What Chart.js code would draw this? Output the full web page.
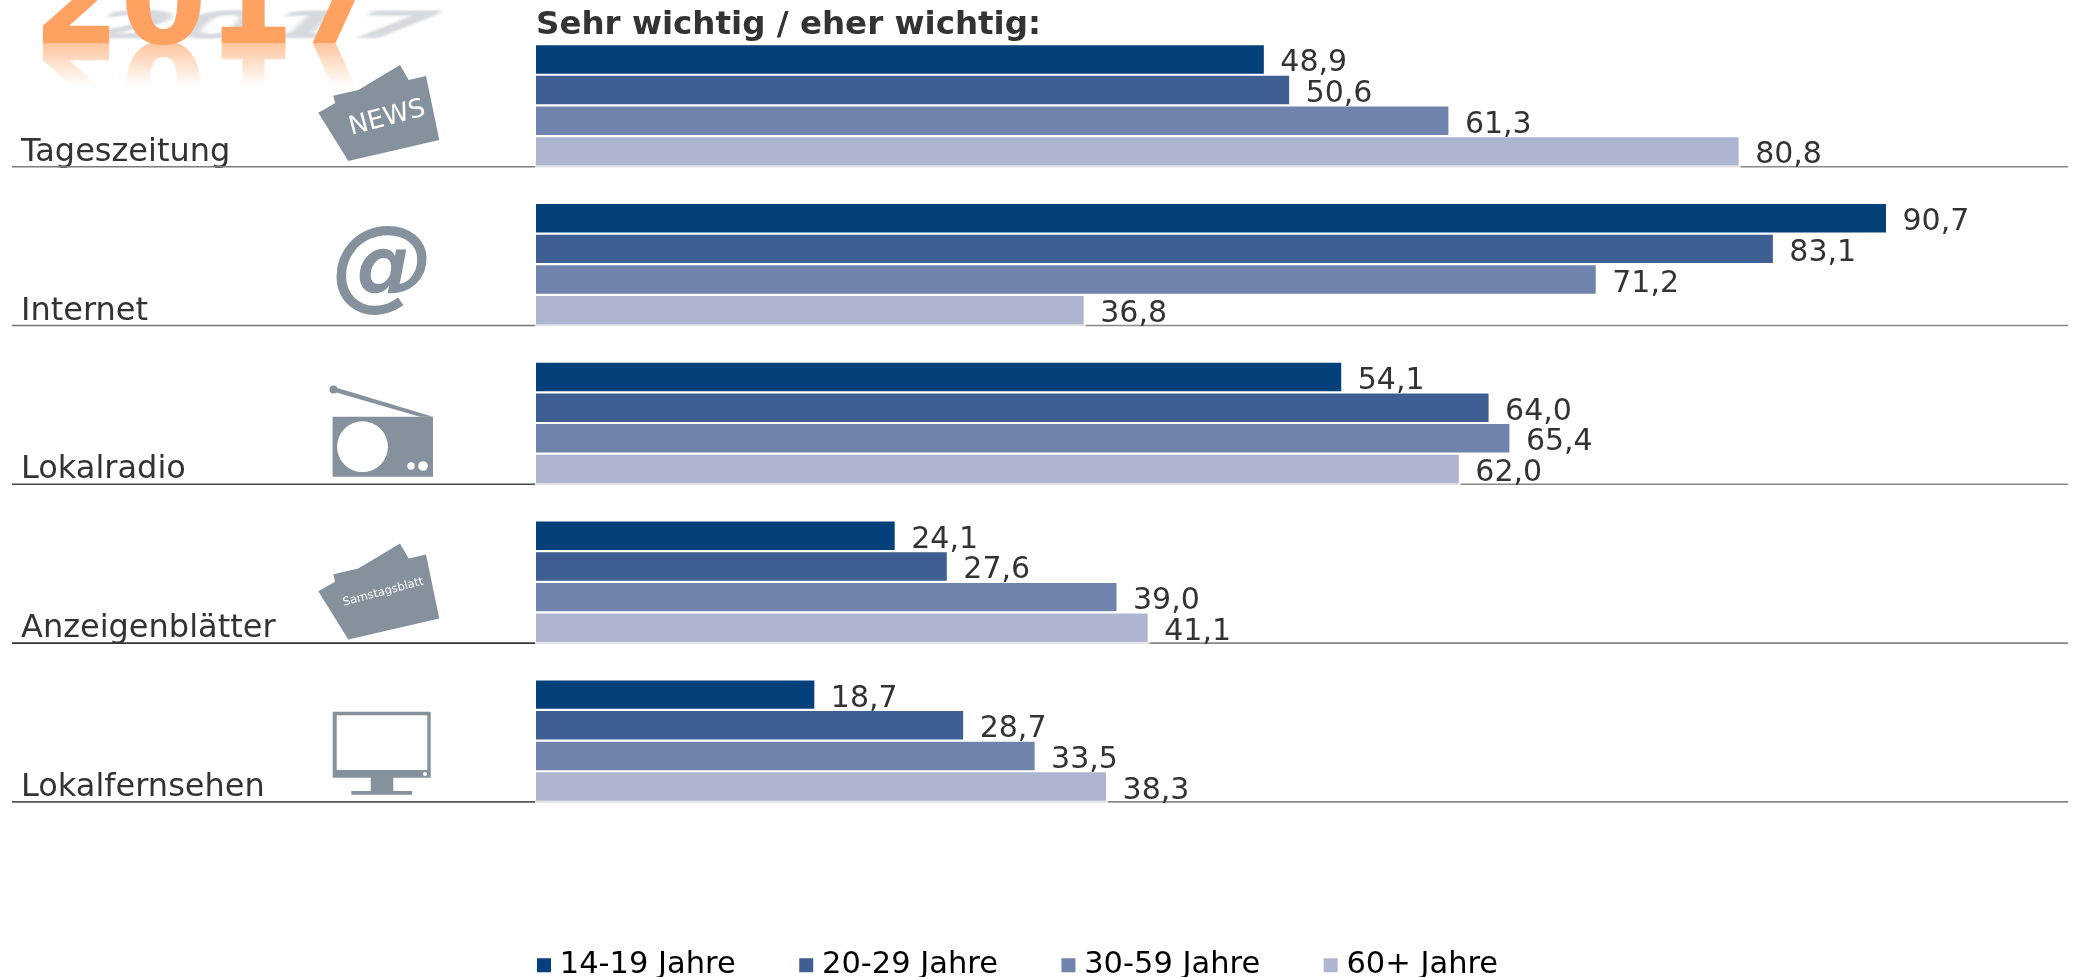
<!DOCTYPE html>
<html lang="de"><head><meta charset="utf-8">
<style>
html,body{margin:0;padding:0;background:#fff;overflow:hidden}
#wrap{position:relative;width:2075px;height:977px}
canvas{position:absolute;left:0;top:0}
svg{position:absolute;left:0;top:0;pointer-events:none}
</style>
<script src="https://cdn.jsdelivr.net/npm/chart.js@4"></script>
</head><body>
<div id="wrap">
<canvas id="c" width="2075" height="977"></canvas>
<svg width="2075" height="977" viewBox="0 0 2075 977">
 <defs>
  <linearGradient id="fade" x1="0" y1="43" x2="0" y2="86" gradientUnits="userSpaceOnUse">
   <stop offset="0" stop-color="#fff" stop-opacity=".62"/><stop offset="1" stop-color="#fff" stop-opacity="0"/>
  </linearGradient>
  <mask id="m" maskUnits="userSpaceOnUse" x="0" y="0" width="500" height="120"><rect x="0" y="43" width="500" height="60" fill="url(#fade)"/></mask>
  <filter id="b" x="-10%" y="-50%" width="120%" height="200%"><feGaussianBlur stdDeviation="3.2"/></filter>
  <filter id="b2" x="-5%" y="-5%" width="110%" height="110%"><feGaussianBlur stdDeviation="0.6"/></filter>
 </defs>
 <g font-family="DejaVu Sans" font-weight="700" font-size="125">
  <text transform="translate(76,38) matrix(1,0,-0.3,0.3,0,0)" fill="#b4bcc4" opacity=".55" filter="url(#b)">2017</text>
  <g mask="url(#m)"><text transform="translate(33,43) scale(1,-1)" fill="#ffa261" filter="url(#b2)">2017</text></g>
  <text x="33" y="43" fill="#ffa261">2017</text>
 </g>
 <g fill="#85919d">
  <path d="M318.3 112.7L348.3 161L439.3 140L426 76L408.7 80L400 65L358.3 90L333.3 95.7L335 103.3Z"/>
  <path transform="translate(0,478.5)" d="M318.3 112.7L348.3 161L439.3 140L426 76L408.7 80L400 65L358.3 90L333.3 95.7L335 103.3Z"/>
  <text x="383" y="297.5" font-family="DejaVu Sans" font-weight="700" font-style="oblique" font-size="102" text-anchor="middle">@</text>
  <path d="M332.6 416.7H433V476.7H332.6Z"/>
  <path d="M334 387L433 416.7H420L333 391.5Z"/><circle cx="333.5" cy="389.5" r="4"/>
  <path d="M332.7 711.7H430.7V777.7H393.3V791H412V794.7H351.3V791H370.7V777.7H332.7Z"/>
 </g>
 <g fill="#fff">
  <circle cx="362.5" cy="446.7" r="25.4"/><circle cx="411" cy="466" r="3.7"/><circle cx="423" cy="466" r="4.8"/>
  <rect x="336.7" y="715.3" width="90.6" height="54.7"/><circle cx="425" cy="774" r="2"/>
  <text font-family="DejaVu Sans" font-size="26" text-anchor="middle" transform="translate(389,125) rotate(-15)">NEWS</text>
  <text font-family="DejaVu Sans" font-size="11.5" text-anchor="middle" transform="translate(384,595) rotate(-15)">Samstagsblatt</text>
 </g>
</svg>
</div>
<script>
const categories = ['Tageszeitung','Internet','Lokalradio','Anzeigenblätter','Lokalfernsehen'];
const seriesNames = ['14-19 Jahre','20-29 Jahre','30-59 Jahre','60+ Jahre'];
const age14to19 = [48.9,90.7,54.1,24.1,18.7];
const age20to29 = [50.6,83.1,64.0,27.6,28.7];
const age30to59 = [61.3,71.2,65.4,39.0,33.5];
const age60plus = [80.8,36.8,62.0,41.1,38.3];
const colors = ['#04407a','#3f5e91','#7083ad','#aeb5d1'];
const titleText = 'Sehr wichtig / eher wichtig:';
const ruleLeftColors = ['#7c7c7c','#777777','#484848','#383838','#555555'];
const ruleRightColor = '#888888';
const ruleUnderBarColor = '#e2e2e2';
const inkColor = '#333333';
const fontFamily = '"DejaVu Sans"';
const fontSize = 30;
const legendFontSize = 30.5;
const labelFontSize = 32;
const titleFontSize = 32.5;
const legendPad = 70;

const decor = {
  id:'decor',
  afterLayout(chart){
    const l = chart.legend;
    l.left = 543.5 - legendPad;
    l.top = 950 - legendPad;
    l.right = l.left + l.width;
    l.bottom = l.top + l.height;
  },
  beforeDatasetsDraw(chart){
    const {ctx, scales:{y}} = chart;
    const last = chart.getDatasetMeta(3).data;
    ctx.save();
    ctx.lineWidth = 1.6;
    categories.forEach((c,i)=>{
      const py = y.getPixelForValue(i) + 61.3;
      const end = last[i].x;
      const seg=(a,b,col)=>{ctx.strokeStyle=col;ctx.beginPath();ctx.moveTo(a,py);ctx.lineTo(b,py);ctx.stroke();};
      seg(12,chart.chartArea.left-1,ruleLeftColors[i]);
      seg(chart.chartArea.left-1,end+2,ruleUnderBarColor);
      seg(end+2,2068,ruleRightColor);
    });
    ctx.restore();
  },
  afterDatasetsDraw(chart){
    const {ctx} = chart;
    ctx.save();
    ctx.font = fontSize+'px '+fontFamily;
    ctx.fillStyle = inkColor;
    ctx.textAlign = 'left';
    ctx.textBaseline = 'alphabetic';
    chart.data.datasets.forEach((ds,d)=>{
      chart.getDatasetMeta(d).data.forEach((el,i)=>{
        ctx.fillText(ds.data[i].toFixed(1).replace('.',','), el.x+16.5, el.y+12);
      });
    });
    ctx.restore();
  }
};

new Chart(document.getElementById('c'),{
  type:'bar',
  data:{labels:categories,datasets:[age14to19,age20to29,age30to59,age60plus].map((d,i)=>({
    label:seriesNames[i],data:d,backgroundColor:colors[i],borderWidth:0,
    categoryPercentage:.772,barPercentage:.929
  }))},
  plugins:[decor],
  options:{
    indexAxis:'y',responsive:false,animation:false,
    layout:{autoPadding:false,padding:{left:21,right:50.6,top:0,bottom:46.5}},
    plugins:{
      tooltip:{enabled:false},
      title:{display:false},
      legend:{
        display:true,position:'bottom',align:'start',
        labels:{
          boxWidth:1,boxHeight:1,padding:legendPad,color:inkColor,
          font:{family:fontFamily,size:legendFontSize},
          generateLabels(chart){
            return chart.data.datasets.map((ds,i)=>({
              text:ds.label,fillStyle:colors[i],strokeStyle:colors[i],lineWidth:13,
              datasetIndex:i,hidden:false
            }));
          }
        }
      }
    },
    scales:{
      x:{
        position:'top',min:0,max:100,
        grid:{display:false},border:{display:false},
        ticks:{display:false},
        title:{display:true,text:titleText,align:'start',color:inkColor,
          font:{family:fontFamily,size:titleFontSize,weight:'bold',lineHeight:1},
          padding:{top:9,bottom:0}},
        afterFit(s){s.height=26;}
      },
      y:{
        grid:{display:false},border:{display:false},
        ticks:{color:inkColor,font:{family:fontFamily,size:labelFontSize},crossAlign:'far',
          padding:0,labelOffset:47,autoSkip:false,maxRotation:0,minRotation:0},
        afterFit(s){s.width=515;s.paddingTop=0;s.paddingBottom=0;}
      }
    }
  }
});
</script>
</body></html>
